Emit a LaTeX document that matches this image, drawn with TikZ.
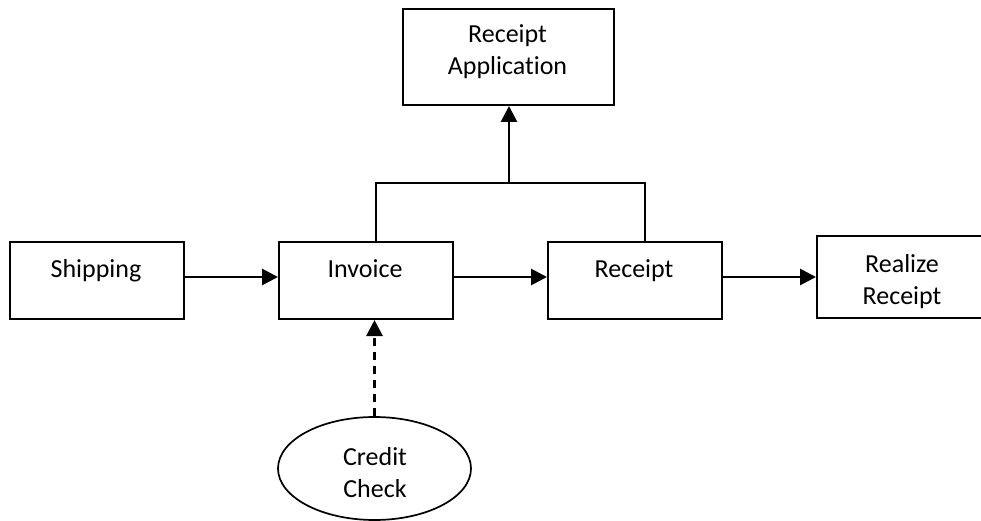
\documentclass[tikz,border=0pt]{standalone}
\usepackage{fontspec}
\setmainfont{Carlito}[RawFeature=-liga]
\usetikzlibrary{arrows.meta,shapes.geometric}
\begin{document}
\begin{tikzpicture}[x=1pt,y=-1pt,
  box/.style={draw,line width=2pt,inner sep=0pt,anchor=north west},
  txt/.style={inner sep=0pt,anchor=base,font=\fontsize{26}{32}\selectfont},
  flow/.style={line width=2.8pt,-{Triangle[length=16pt,width=16pt]}},
  tree/.style={line width=1.7pt}]
\clip (0,0) rectangle (981,521);
\fill[white] (0,0) rectangle (981,521);

% process boxes
\node[box,minimum width=211pt,minimum height=96pt] (app) at (402,8) {};
\node[box,minimum width=174pt,minimum height=77pt] (ship) at (9,241) {};
\node[box,minimum width=174pt,minimum height=77pt] (inv) at (278,241) {};
\node[box,minimum width=174pt,minimum height=77pt] (rec) at (547,241) {};
\node[box,minimum width=172pt,minimum height=82pt] (real) at (816,235) {};
\node[draw,ellipse,line width=1.7pt,minimum width=193pt,minimum height=103pt,inner sep=0pt] (cc) at (374.5,468.5) {};

% labels
\node[txt] (appA) at (507.5,43) {Receipt};
\node[txt] (appB) at (507.5,75) {Application};
\node[txt] (shipT) at (96,277) {Shipping};
\node[txt] (invT) at (365,277) {Invoice};
\node[txt] (recT) at (634,277) {Receipt};
\node[txt] (realA) at (902,272) {Realize};
\node[txt] (realB) at (902,304) {Receipt};
\node[txt] (ccA) at (375,465) {Credit};
\node[txt] (ccB) at (375,497) {Check};

% connectors
\coordinate (join) at (509,183);
\draw[tree] ([xshift=10pt]inv.north) |- (join) -| ([xshift=10pt]rec.north);
\draw[flow] (join) -- (join |- app.south);
\draw[flow] ([yshift=3.5pt]ship.east) -- ([yshift=3.5pt]inv.west);
\draw[flow] ([yshift=3.5pt]inv.east) -- ([yshift=3.5pt]rec.west);
\draw[flow] ([yshift=3.5pt]rec.east) -- ([yshift=3.5pt]rec.east -| real.west);
\draw[flow,dash pattern=on 8pt off 6pt] (cc.north) -- (cc.north |- inv.south);
\end{tikzpicture}
\end{document}
